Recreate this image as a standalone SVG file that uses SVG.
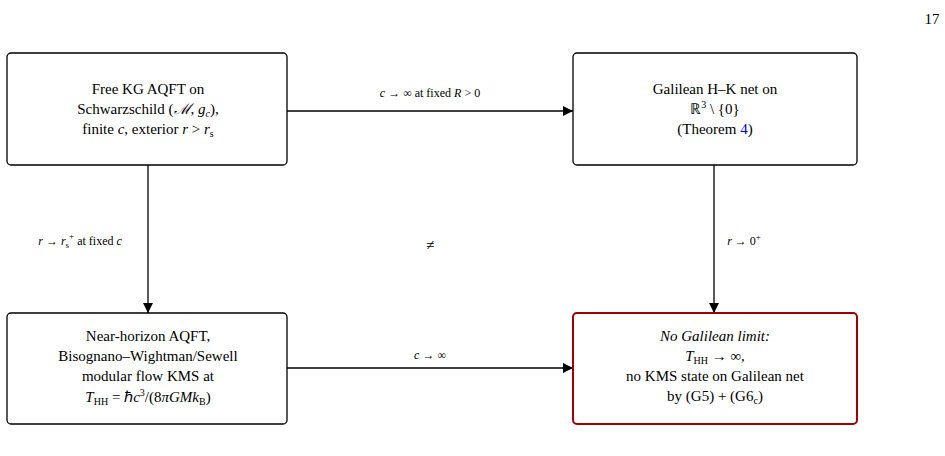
<svg xmlns="http://www.w3.org/2000/svg" width="945" height="456" viewBox="0 0 945 456">
<style>
text{font-family:"Liberation Serif",serif;font-size:15px;fill:#000;text-anchor:middle}
.s{font-size:12px}
.b{fill:#fff;stroke:#000;stroke-width:1.3}
.r{fill:#fff;stroke:#a00000;stroke-width:2}
.c{stroke:#000;stroke-width:1.3;fill:none;marker-end:url(#a)}
</style>
<defs><marker id="a" viewBox="0 0 10 10" refX="10" refY="5" markerWidth="10" markerHeight="10" markerUnits="userSpaceOnUse" orient="auto"><path d="M0,0L10,5L0,10z"/></marker></defs>
<text x="932" y="24" font-size="13">17</text>
<g id="connectors">
<path class="c" d="M287,111H573"/>
<path class="c" d="M287,368H573"/>
<path class="c" d="M148,165V313"/>
<path class="c" d="M714,165V313"/>
<text class="s" x="430" y="97"><tspan font-style="italic">c</tspan> → ∞ at fixed <tspan font-style="italic">R</tspan> &gt; 0</text>
<text class="s" x="430" y="359"><tspan font-style="italic">c</tspan> → ∞</text>
<text class="s" x="80" y="245"><tspan font-style="italic">r</tspan> → <tspan font-style="italic">r</tspan><tspan font-size="9" dy="3">s</tspan><tspan font-size="9" dy="-9">+</tspan><tspan dy="6"> at fixed </tspan><tspan font-style="italic">c</tspan></text>
<text class="s" x="744" y="245"><tspan font-style="italic">r</tspan> → 0<tspan font-size="9" dy="-5">+</tspan></text>
<text x="430" y="250" font-size="30">≠</text>
</g>
<g id="n1"><rect class="b" x="7" y="53" width="280" height="112" rx="4"/>
<text x="148" y="94">Free KG AQFT on</text>
<text x="148" y="114">Schwarzschild (<tspan font-style="italic">ℳ</tspan>, <tspan font-style="italic">g</tspan><tspan font-size="10" dy="3" font-style="italic">c</tspan><tspan dy="-3">),</tspan></text>
<text x="148" y="134">finite <tspan font-style="italic">c</tspan>, exterior <tspan font-style="italic">r</tspan> &gt; <tspan font-style="italic">r</tspan><tspan font-size="10" dy="3">s</tspan></text></g>
<g id="n2"><rect class="b" x="573" y="53" width="284" height="112" rx="4"/>
<text x="715" y="94">Galilean H–K net on</text>
<text x="715" y="114">ℝ<tspan font-size="10" dy="-6">3</tspan><tspan dy="6"> \ {0}</tspan></text>
<text x="715" y="134">(Theorem <tspan fill="#0000ee">4</tspan>)</text></g>
<g id="n3"><rect class="b" x="7" y="313" width="280" height="111" rx="4"/>
<text x="148" y="341">Near-horizon AQFT,</text>
<text x="148" y="361">Bisognano–Wightman/Sewell</text>
<text x="148" y="381">modular flow KMS at</text>
<text x="148" y="402"><tspan font-style="italic">T</tspan><tspan font-size="10" dy="3">HH</tspan><tspan dy="-3"> = ℏ</tspan><tspan font-style="italic">c</tspan><tspan font-size="10" dy="-6">3</tspan><tspan dy="6">/(8</tspan><tspan font-style="italic">πGMk</tspan><tspan font-size="10" dy="3">B</tspan><tspan dy="-3">)</tspan></text></g>
<g id="n4"><rect class="r" x="573" y="313" width="284" height="111" rx="4"/>
<text x="715" y="341" font-style="italic">No Galilean limit:</text>
<text x="715" y="361"><tspan font-style="italic">T</tspan><tspan font-size="10" dy="3">HH</tspan><tspan dy="-3"> → ∞,</tspan></text>
<text x="715" y="381">no KMS state on Galilean net</text>
<text x="715" y="401">by (G5) + (G6<tspan font-size="10" dy="3">c</tspan><tspan dy="-3">)</tspan></text></g>
</svg>
